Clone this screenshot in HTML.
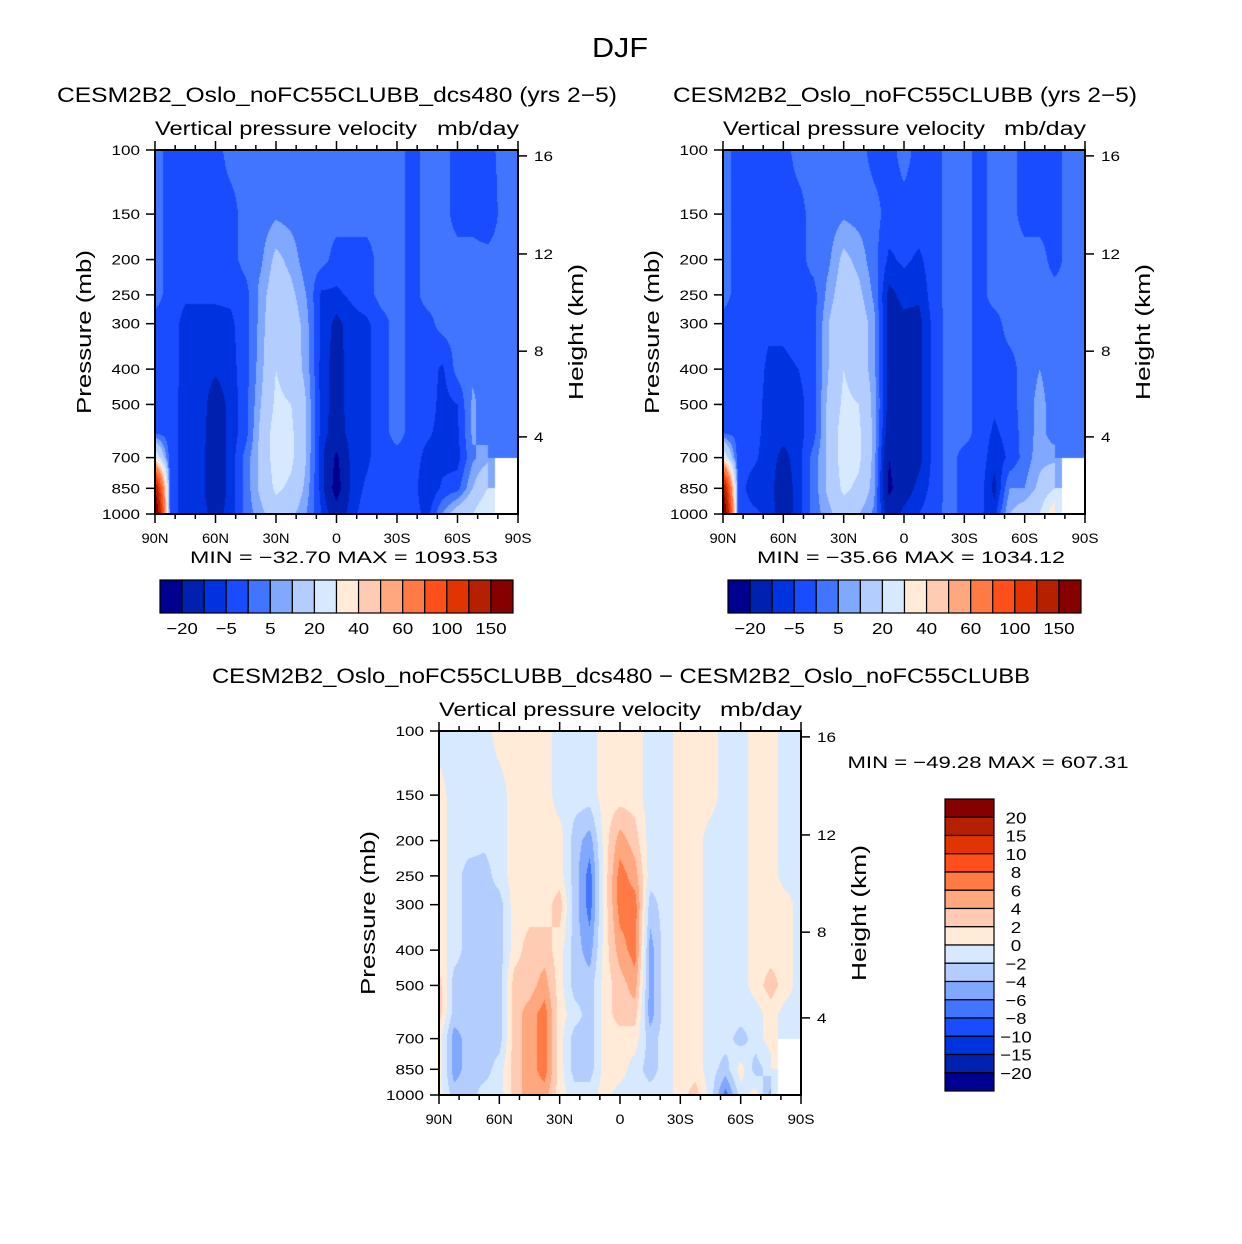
<!DOCTYPE html>
<html><head><meta charset="utf-8">
<style>
html,body{margin:0;padding:0;background:#fff;}
#wrap{position:relative;width:1242px;height:1244px;overflow:hidden;background:#fff;}
canvas{position:absolute;}
svg{position:absolute;left:0;top:0;}
text{font-family:"Liberation Sans",sans-serif;fill:#000;}
</style></head>
<body>
<div id="wrap">
<canvas id="c1"></canvas>
<canvas id="c2"></canvas>
<canvas id="c3"></canvas>
<svg id="svg" width="1242" height="1244" xmlns="http://www.w3.org/2000/svg"></svg>
</div>
<script>
// ---------- data ----------
const latLabels = ["90N","60N","30N","0","30S","60S","90S"];
const pressureLevels = [100,150,200,250,300,400,500,600,700,850,1000];
const pTickLabels = [100,150,200,250,300,400,500,700,850,1000];
const heightTickLabels = ["16","12","8","4"];
const heightTickPressures = [103.8,193,357,614];
const boundsAbs = [-20,-10,-5,0,5,10,20,30,40,50,60,80,100,120,150];
const boundsAbsLabels = ["−20","−5","5","20","40","60","100","150"];
const boundsDiff = [-20,-15,-10,-8,-6,-4,-2,0,2,4,6,8,10,15,20];
const boundsDiffLabels = ["−20","−15","−10","−8","−6","−4","−2","0","2","4","6","8","10","15","20"];
const palette = ["#000090","#0020b0","#0033e0","#1a4cff","#4275ff","#80a8ff","#b3cdff","#d6e9ff","#ffebd8","#ffcbb2","#ffa880","#ff7a45","#ff4f1a","#e23400","#b52000","#870000"];
// columns: 90N -> 90S every 7.5 deg; rows: pressureLevels
const field1 = [
[2,2,2,2,-2,-2,-2,0,30,150,200],
[-2,-2,-2,-2,-2,-2,-3,-3,-3,-3,-3],
[-2,-2,-2,-4,-7,-7,-7,-7,-7,-7,-7],
[-2,-2,-2,-4,-7,-7,-7,-7,-8,-8,-8],
[-2,-2,-2,-4,-7,-9,-14,-15,-15,-15,-12],
[2,-2,-2,-4,-6,-7,-8,-8,-8,-8,-8],
[2,2,2,-2,-2,-2,-2,-2,2,2,2],
[2,2,4,7,7,8,10,12,12,12,8],
[2,4,12,15,18,20,22,25,25,22,15],
[2,3,8,12,15,15,20,22,22,18,12],
[2,2,2,5,7,8,10,10,10,8,5],
[2,2,2,-6,-6,-7,-7,-7,-8,-7,-5],
[2,2,-2,-6,-12,-13,-13,-14,-22,-25,-15],
[2,2,-2,-4,-7,-7,-7,-7,-8,-8,-7],
[2,2,-2,-2,-6,-6,-6,-6,-6,-4,-2],
[2,2,2,2,-2,-2,-2,-2,-2,-2,-2],
[2,2,2,2,2,2,2,2,-2,-2,-2],
[-2,-2,-2,-2,-2,-2,-2,-2,-2,-2,-2],
[2,2,2,2,-2,-2,-2,-4,-7,-10,-7],
[2,2,2,2,2,-6,-7,-7,-7,-4,5],
[-2,-2,2,2,2,2,-5,-6,-7,-2,15],
[-2,-2,2,2,2,4,6,6,4,10,20],
[-2,-4,2,2,2,2,2,2,8,20,30],
[2,2,2,2,2,2,2,2,null,null,null],
[2,2,2,2,2,2,2,2,null,null,null]];
const field2 = [
[2,2,2,2,-2,-2,-2,0,30,150,200],
[-2,-2,-2,-2,-2,-2,-2,-2,-3,-3,-3],
[-2,-2,-2,-2,-2,-2,-2,-3,-4,-7,-4],
[-2,-2,-2,-2,-4,-6,-7,-7,-7,-7,-6],
[-2,-2,-2,-2,-4,-6,-7,-8,-12,-15,-15],
[2,-2,-2,-2,-3,-5,-7,-7,-7,-7,-7],
[2,2,2,-2,-2,-2,-2,-2,2,2,2],
[2,2,4,7,10,10,12,12,12,12,8],
[2,4,12,15,18,20,22,25,25,22,15],
[2,3,8,12,15,15,20,22,22,18,10],
[-2,2,2,4,7,7,8,8,8,7,4],
[-2,-2,-6,-12,-13,-13,-13,-15,-20,-22,-15],
[2,-2,-4,-8,-12,-12,-12,-12,-14,-14,-8],
[-2,-2,-6,-9,-12,-12,-12,-12,-12,-8,-5],
[-2,-2,-2,-2,-3,-3,-3,-3,-3,-3,-2],
[2,2,2,2,2,2,2,2,2,2,2],
[2,2,2,2,2,2,2,2,-2,-2,-2],
[-2,-2,-2,-2,-2,-2,-2,-2,-2,-2,-4],
[2,2,2,2,-2,-2,-4,-6,-8,-12,-7],
[2,2,2,2,2,-2,-2,-3,-4,5,10],
[-2,-2,2,2,2,2,2,2,2,5,15],
[-2,-2,2,2,2,5,7,7,8,12,20],
[-2,-2,-2,2,2,2,2,2,8,20,40],
[2,2,2,2,2,2,2,2,null,null,null],
[2,2,2,2,2,2,2,2,null,null,null]];
const field3 = [
[-1,1,1,1,1,1,3,3,1,1,1],
[-1,-1,-1,-1,-1,-1,-3,-3,-5,-5,-3],
[-1,-1,-1,-3,-3,-3,-3,-3,-3,-3,-3],
[-1,-1,-1.5,-3,-3,-3,-3,-3,-3,-3,-1],
[1,-1,-1,-1,-3,-3,-3,-3,-3,-1,-1],
[1,1,1,1,1,1,3,3,3,3,3],
[1,1,1,1,1,3,3,5,5,5,5],
[1,1,1,1,1,3,5,7,7,7,5],
[-1,-1,1,1,3,1,1,1,1,1,1],
[-1,-1,-3,-3,-3,-3,-3,-1,-3,-3,-1],
[-1,-1,-5,-7,-7,-5,-3,-3,-3,-3,-1],
[1,1,1,1,1,1,1,1,1,1,1],
[1,1,5,7,7,5,3,3,1,1,-1],
[1,1,3,5,7,7,5,3,1,-1,-1],
[-1,-1,-1,-1,-3,-5,-5,-5,-3,-3,-1],
[-1,-1,-1,-1,-1,-1,-1,-1,-1,-1,-1],
[1,1,1,1,1,1,1,1,1,1,1],
[1,1,1,1,1,1,1,1,1,1,3],
[1,1,-1,-1,-1,-1,-1,-1,-1,-1,-1],
[-1,-1,-1,-1,-1,-1,-1,-1,-1,-3,-7],
[-1,-1,-1,-1,-1,-1,-1,-1,-3,1,-1],
[1,1,1,1,1,1,1,-1,-1,-3,1],
[1,1,1,1,1,1,3,1,1,-1,-5],
[-1,-1,-1,-1,1,1,1,-1,null,null,null],
[-1,-1,-1,-1,-1,-1,-1,-1,null,null,null]];

// ---------- geometry ----------
const panels = [
 {id:"c1", x:155, y:150, w:363, h:364, field:field1, bounds:boundsAbs, name:"dcs480"},
 {id:"c2", x:723, y:150, w:362, h:364, field:field2, bounds:boundsAbs, name:"control"},
 {id:"c3", x:439, y:731, w:362, h:364, field:field3, bounds:boundsDiff, name:"difference"}
];
const NS = "http://www.w3.org/2000/svg";
const svg = document.getElementById("svg");
function yScale(pn, p){ return pn.y + pn.h*Math.log10(p/100); }
function xScale(pn, frac){ return pn.x + pn.w*frac; }
function levelOf(v, b){ let k=0; while(k<b.length && v>=b[k]) k++; return k; }

function drawField(pn){
  const cv = document.getElementById(pn.id);
  cv.width = pn.w; cv.height = pn.h;
  cv.style.left = pn.x+"px"; cv.style.top = pn.y+"px";
  const ctx = cv.getContext("2d");
  const img = ctx.createImageData(pn.w, pn.h);
  const nc = pn.field.length-1;
  const lp = pressureLevels.map(p=>Math.log10(p));
  const l700 = Math.log10(700);
  const rgb = palette.map(h=>[parseInt(h.slice(1,3),16),parseInt(h.slice(3,5),16),parseInt(h.slice(5,7),16)]);
  for(let j=0;j<pn.h;j++){
    const l = 2 + (j+0.5)/pn.h;
    let k=0; while(k<lp.length-2 && l>lp[k+1]) k++;
    const u = Math.min(1,Math.max(0,(l-lp[k])/(lp[k+1]-lp[k])));
    for(let i=0;i<pn.w;i++){
      const fx = (i+0.5)/pn.w*nc;
      const c = Math.min(nc-1,Math.floor(fx)); const t = fx-c;
      const a=pn.field[c][k], b=pn.field[c+1][k], d=pn.field[c][k+1], e=pn.field[c+1][k+1];
      let col;
      if(a===null||b===null||d===null||e===null){
        const row = l>=l700 ? k+1 : k;
        const nv = pn.field[t<0.5?c:c+1][row];
        if(nv===null) col=[255,255,255];
        else {
          const nv2 = pn.field[t<0.5?c:c+1][k];
          col = rgb[levelOf(nv2===null?nv:nv2,pn.bounds)];
        }
      } else {
        const v = (a*(1-t)+b*t)*(1-u) + (d*(1-t)+e*t)*u;
        col = rgb[levelOf(v,pn.bounds)];
      }
      const o=(j*pn.w+i)*4;
      img.data[o]=col[0]; img.data[o+1]=col[1]; img.data[o+2]=col[2]; img.data[o+3]=255;
    }
  }
  ctx.putImageData(img,0,0);
}

function txt(x,y,s,size,name,opts){
  opts=opts||{};
  const el=document.createElementNS(NS,"text");
  el.setAttribute("x",x); el.setAttribute("y",y);
  el.setAttribute("font-size",size);
  el.setAttribute("text-anchor",opts.anchor||"start");
  if(opts.len){ el.setAttribute("textLength",opts.len); el.setAttribute("lengthAdjust","spacingAndGlyphs"); }
  if(opts.rot) el.setAttribute("transform","rotate(-90 "+x+" "+y+")");
  el.textContent=s;
  
  
  svg.appendChild(el); return el;
}
function line(x1,y1,x2,y2,name,w){
  const el=document.createElementNS(NS,"line");
  el.setAttribute("x1",x1); el.setAttribute("y1",y1); el.setAttribute("x2",x2); el.setAttribute("y2",y2);
  el.setAttribute("stroke","#000"); el.setAttribute("stroke-width",w||1.5);
  
  
  svg.appendChild(el); return el;
}
function rect(x,y,w,h,fill,name){
  const el=document.createElementNS(NS,"rect");
  el.setAttribute("x",x); el.setAttribute("y",y); el.setAttribute("width",w); el.setAttribute("height",h);
  el.setAttribute("fill",fill); el.setAttribute("stroke","#000"); el.setAttribute("stroke-width",1.2);
  
  
  svg.appendChild(el); return el;
}

function drawAxes(pn){
  const r = document.createElementNS(NS,"rect");
  r.setAttribute("x",pn.x); r.setAttribute("y",pn.y); r.setAttribute("width",pn.w); r.setAttribute("height",pn.h);
  r.setAttribute("fill","none"); r.setAttribute("stroke","#000"); r.setAttribute("stroke-width",2);
  
  
  svg.appendChild(r);
  for(let d=0; d<=180; d+=10){
    const x = xScale(pn, d/180);
    const major = d%30===0;
    const L = major?9:5;
    line(x,pn.y,x,pn.y-L,'top-tick',1.5);
    line(x,pn.y+pn.h,x,pn.y+pn.h+L,'bottom-tick',1.5);
  }
  latLabels.forEach((s,i)=>{
    txt(xScale(pn,i/6), pn.y+pn.h+29, s, 14, 'x-tick-label', {anchor:"middle", len:s.length*9});
  });
  pTickLabels.forEach(p=>{
    const y=yScale(pn,p);
    line(pn.x-9,y,pn.x,y,'y-tick',1.5);
    const s=String(p);
    txt(pn.x-15, y+5, s, 14, 'y-tick-label', {anchor:"end", len:s.length*9.5});
  });
  heightTickPressures.forEach((p,i)=>{
    const y=yScale(pn,p);
    line(pn.x+pn.w,y,pn.x+pn.w+9,y,'height-tick',1.5);
    const s=heightTickLabels[i];
    txt(pn.x+pn.w+16, y+5, s, 14, 'height-tick-label', {len:s.length*9.5});
  });
  txt(pn.x-64, pn.y+pn.h/2, "Pressure (mb)", 20, 'y-axis-title', {anchor:"middle", rot:true, len:164});
  txt(pn.x+pn.w+65, pn.y+pn.h/2, "Height (km)", 20, 'right-axis-title', {anchor:"middle", rot:true, len:136});
  txt(pn.x, pn.y-15, "Vertical pressure velocity", 19, 'variable-subtitle', {len:262});
  txt(pn.x+pn.w+1, pn.y-15, "mb/day", 19, 'units-subtitle', {anchor:"end", len:82});
}

panels.forEach(pn=>{ drawField(pn); drawAxes(pn); });

txt(620, 57, "DJF", 28, 'figure-title', {anchor:"middle", len:56});
txt(337, 102, "CESM2B2_Oslo_noFC55CLUBB_dcs480 (yrs 2−5)", 21, 'panel1-title', {anchor:"middle", len:560});
txt(905, 102, "CESM2B2_Oslo_noFC55CLUBB (yrs 2−5)", 21, 'panel2-title', {anchor:"middle", len:464});
txt(621, 683, "CESM2B2_Oslo_noFC55CLUBB_dcs480 − CESM2B2_Oslo_noFC55CLUBB", 21, 'panel3-title', {anchor:"middle", len:818});
txt(344, 563, "MIN = −32.70   MAX = 1093.53", 17, 'panel1-minmax', {anchor:"middle", len:308});
txt(911, 563, "MIN = −35.66   MAX = 1034.12", 17, 'panel2-minmax', {anchor:"middle", len:308});
txt(988, 768, "MIN = −49.28   MAX = 607.31", 17, 'panel3-minmax', {anchor:"middle", len:281});

[[160,"colorbar-1"],[728,"colorbar-2"]].forEach(([x0,nm])=>{
  const bw = 353/16;
  palette.forEach((c,i)=>rect(x0+i*bw,580,bw,33,c,nm+'-box'));
  boundsAbsLabels.forEach((s,i)=>{
    const x = x0 + (2*i+1)*bw;
    txt(x, 634, s, 16, nm+'-label', {anchor:"middle", len:s.length*10.5});
  });
});
{
  const bh = 292/16;
  for(let i=0;i<16;i++) rect(945, 799+i*bh, 49, bh, palette[15-i], 'colorbar-3-box');
  for(let i=0;i<15;i++){
    const s = boundsDiffLabels[14-i];
    txt(1016, 799+(i+1)*bh+6, s, 16, 'colorbar-3-label', {anchor:"middle", len:s.length*10.5});
  }
}
</script>
</body></html>
